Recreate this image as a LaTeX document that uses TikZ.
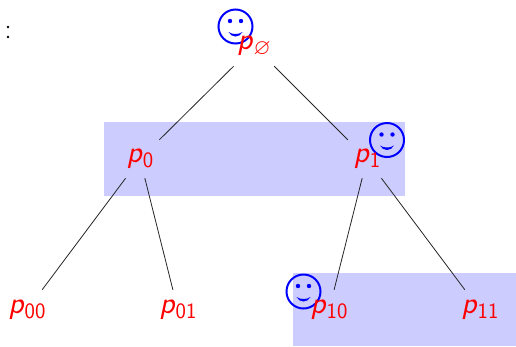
\documentclass[tikz,border=0pt]{standalone}
\usepackage{amssymb}
\usepackage{fontspec}
\setmainfont{Latin Modern Sans}
\definecolor{hl}{RGB}{204,204,255}
\tikzset{
  x=1pt,y=-1pt,
  pnode/.style={text=red,inner sep=0pt,minimum width=42pt,minimum height=38pt,font=\fontsize{31}{31}\selectfont},
  leafnode/.style={pnode,minimum height=40pt},
  rootnode/.style={pnode,minimum width=52pt,minimum height=40pt},
  edge/.style={draw=black!85,line width=0.8pt},
  band/.style={fill=hl,draw=none},
  smile/.pic={
    \draw[blue,line width=2pt,fill=none] (0,0) circle[radius=17];
    \fill[blue] (-5.5,-5.5) circle[radius=2.2] (5.5,-5.5) circle[radius=2.2];
    \fill[blue] (-7,5.5) .. controls (-3,8.2) and (3,8.2) .. (7,5.5) .. controls (4,11.5) and (-4,11.5) .. (-7,5.5) -- cycle;
  }
}
\newcommand{\pl}[1]{\textit{p}\raisebox{-5pt}{\fontsize{22}{22}\selectfont #1}}
\begin{document}
\begin{tikzpicture}
\useasboundingbox (0,0) rectangle (516,346);
\fill[band] (104,122) rectangle (405,196);
\fill[band] (293,273) rectangle (516,346);
\path (235.5,26.5) pic {smile};
\path (387,140) pic {smile};
\path (303.5,291.5) pic {smile};
\node[rootnode] (r) at (254,46) {\raisebox{4pt}{\pl{$\varnothing$}}};
\node[pnode] (a) at (140,159) {\raisebox{1pt}{\pl{0}}};
\node[pnode] (b) at (367,159) {\raisebox{1pt}{\pl{1}}};
\node[leafnode] (aa) at (27,310) {\pl{00}};
\node[leafnode] (ab) at (178,310) {\pl{01}};
\node[leafnode] (ba) at (329,310) {\pl{10}};
\node[leafnode] (bb) at (480,310) {\pl{11}};
\draw[edge] (r) -- (a);
\draw[edge] (r) -- (b);
\draw[edge] (a) -- (aa);
\draw[edge] (a) -- (ab);
\draw[edge] (b) -- (ba);
\draw[edge] (b) -- (bb);
\fill (8,27) circle[radius=1.3] (8,37) circle[radius=1.3];
\end{tikzpicture}
\end{document}
